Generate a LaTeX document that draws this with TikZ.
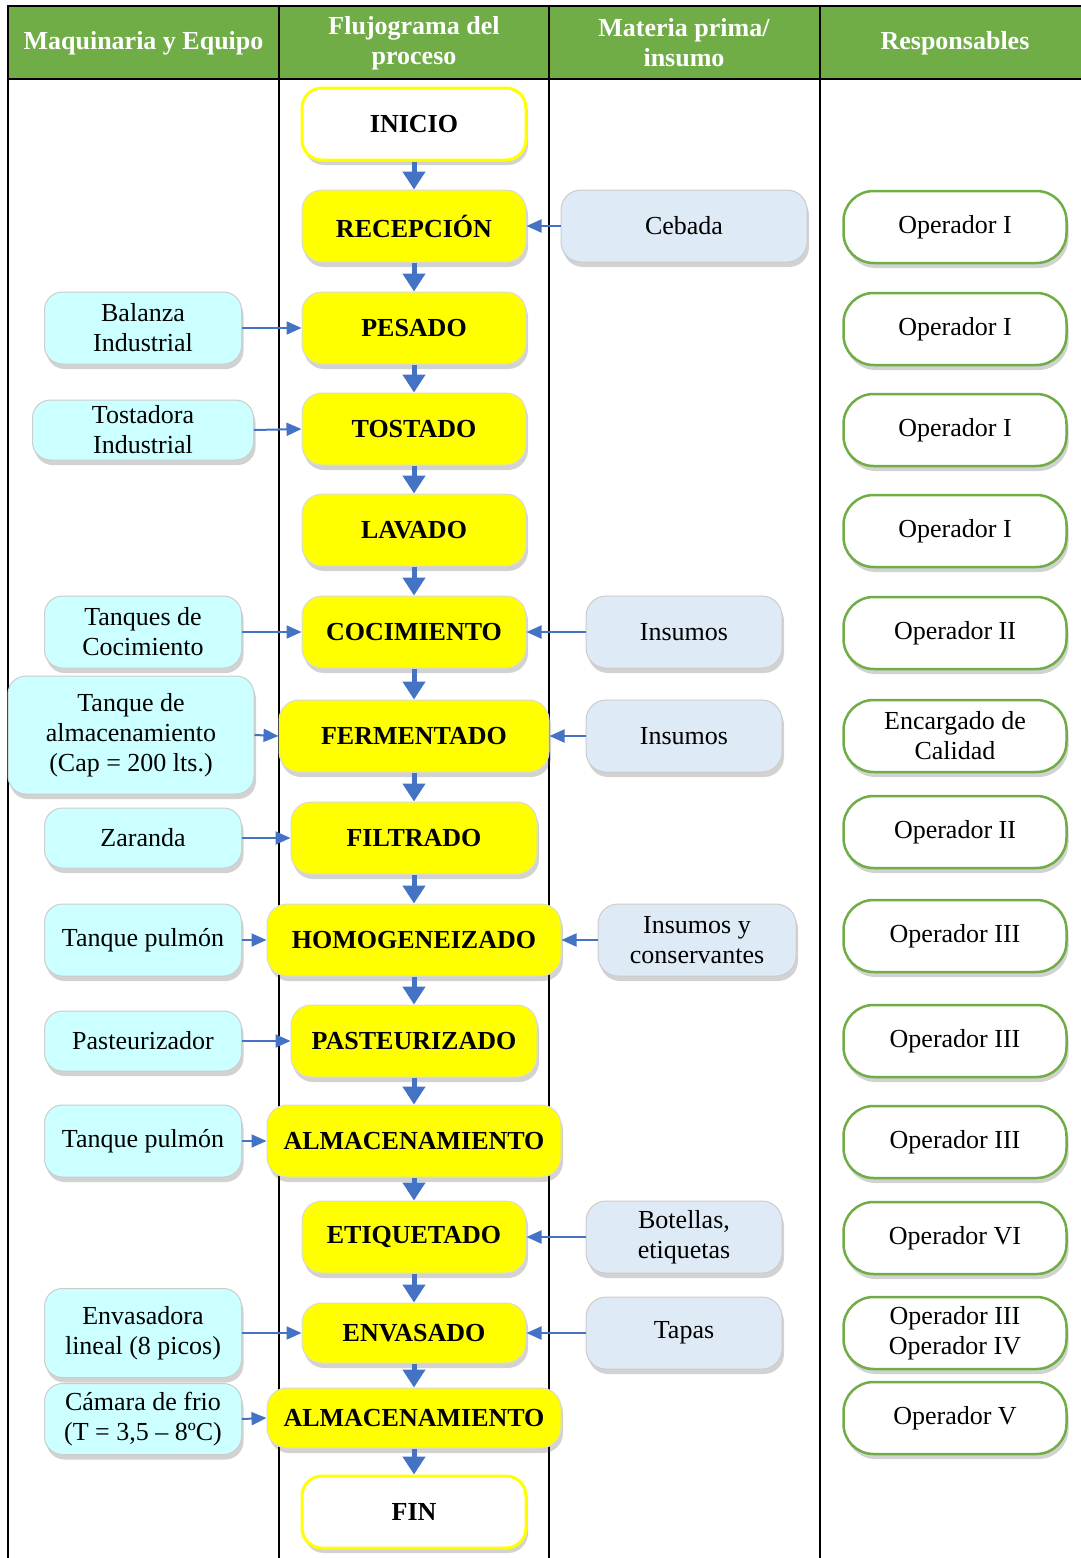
\documentclass[tikz,border=0pt]{standalone}
\usepackage{fontspec}
\setmainfont{Liberation Serif}
\usetikzlibrary{shadows,arrows.meta}
\definecolor{hdr}{HTML}{70AD47}
\definecolor{proc}{HTML}{FFFF00}
\definecolor{eqp}{HTML}{CCFFFF}
\definecolor{mat}{HTML}{DEEAF6}
\definecolor{arr}{HTML}{4472C4}
\definecolor{grn}{HTML}{70AD47}
\tikzset{
 base/.style={rounded corners=20pt, inner sep=0pt, align=center,
   font=\fontsize{26}{30}\selectfont,
   drop shadow={shadow xshift=2pt, shadow yshift=-5pt, opacity=0.25, fill=black!70}},
 procbox/.style={base, fill=proc, draw=black!15, line width=1pt,
   font=\fontsize{26}{30}\selectfont\bfseries, minimum height=72pt},
 termbox/.style={base, fill=white, draw=proc, line width=3pt,
   font=\fontsize{26}{30}\selectfont\bfseries, minimum height=72pt, minimum width=224pt},
 eqpbox/.style={base, fill=eqp, draw=black!20, line width=1pt, rounded corners=18pt},
 matbox/.style={base, fill=mat, draw=black!20, line width=1pt},
 respbox/.style={base, fill=white, draw=grn, line width=2.5pt, rounded corners=30pt,
   minimum width=223pt, minimum height=72pt},
 varrow/.style={draw=arr, line width=5pt, -{Triangle[length=18pt,width=22pt,fill=arr]}},
 harrow/.style={draw=arr, line width=2pt, -{Triangle[length=15pt,width=13pt,fill=arr]}},
 hdrtext/.style={text=white, font=\fontsize{26}{30}\selectfont\bfseries, align=center},
 tbl/.style={draw=black, line width=1.5pt},
}
\begin{document}
\begin{tikzpicture}[x=1pt,y=-1pt]
\useasboundingbox (0,0) rectangle (1081,1558);
% table
\fill[hdr] (8,6) rectangle (1081,79);
\draw[tbl] (8,1558) -- (8,6) -- (1081,6);
\draw[tbl] (8,79) -- (1081,79);
\draw[tbl] (279,6) -- (279,1558);
\draw[tbl] (549,6) -- (549,1558);
\draw[tbl] (820,6) -- (820,1558);
\node[hdrtext] (h1) at (143.5,43) {Maquinaria y Equipo};
\node[hdrtext] (h2) at (414,43) {Flujograma del\\proceso};
\node[hdrtext] (h3) at (684,43) {Materia prima/\\insumo};
\node[hdrtext] (h4) at (955,43) {Responsables};
% process
\node[termbox] (p1) at (414,124) {INICIO};
\node[procbox, minimum width=224pt] (p2) at (414,226) {RECEPCIÓN};
\node[procbox, minimum width=224pt] (p3) at (414,328) {PESADO};
\node[procbox, minimum width=224pt] (p4) at (414,429) {TOSTADO};
\node[procbox, minimum width=224pt] (p5) at (414,530) {LAVADO};
\node[procbox, minimum width=224pt] (p6) at (414,632) {COCIMIENTO};
\node[procbox, minimum width=270pt] (p7) at (414,736) {FERMENTADO};
\node[procbox, minimum width=246pt] (p8) at (414,838) {FILTRADO};
\node[procbox, minimum width=294pt] (p9) at (414,940) {HOMOGENEIZADO};
\node[procbox, minimum width=246pt] (p10) at (414,1041) {PASTEURIZADO};
\node[procbox, minimum width=294pt] (p11) at (414,1141) {ALMACENAMIENTO};
\node[procbox, minimum width=224pt] (p12) at (414,1237) {ETIQUETADO};
\node[procbox, minimum width=224pt, minimum height=60pt] (p13) at (414,1333) {ENVASADO};
\node[procbox, minimum width=294pt, minimum height=60pt] (p14) at (414,1418) {ALMACENAMIENTO};
\node[termbox] (p15) at (414,1512) {FIN};
% equipment
\node[eqpbox, minimum width=197pt, minimum height=72pt] (e1) at (143,328) {Balanza\\Industrial};
\node[eqpbox, minimum width=221pt, minimum height=60pt] (e2) at (143,430) {Tostadora\\Industrial};
\node[eqpbox, minimum width=197pt, minimum height=72pt] (e3) at (143,632) {Tanques de\\Cocimiento};
\node[eqpbox, minimum width=246pt, minimum height=118pt] (e4) at (131,735) {Tanque de\\almacenamiento\\(Cap = 200 lts.)};
\node[eqpbox, minimum width=197pt, minimum height=60pt] (e5) at (143,838) {Zaranda};
\node[eqpbox, minimum width=197pt, minimum height=72pt] (e6) at (143,940) {Tanque pulmón};
\node[eqpbox, minimum width=197pt, minimum height=60pt] (e7) at (143,1041) {Pasteurizador};
\node[eqpbox, minimum width=197pt, minimum height=72pt] (e8) at (143,1141) {Tanque pulmón};
\node[eqpbox, minimum width=197pt, minimum height=89pt] (e9) at (143,1333) {Envasadora\\lineal (8 picos)};
\node[eqpbox, minimum width=197pt, minimum height=71pt] (e10) at (143,1419) {Cámara de frio\\(T = 3,5 – 8ºC)};
% materials
\node[matbox, minimum width=246pt, minimum height=72pt] (m1) at (684,226) {Cebada};
\node[matbox, minimum width=196pt, minimum height=72pt] (m2) at (684,632) {Insumos};
\node[matbox, minimum width=196pt, minimum height=72pt] (m3) at (684,736) {Insumos};
\node[matbox, minimum width=198pt, minimum height=72pt] (m4) at (697,940) {Insumos y\\conservantes};
\node[matbox, minimum width=196pt, minimum height=72pt] (m5) at (684,1237) {Botellas,\\etiquetas};
\node[matbox, minimum width=196pt, minimum height=72pt] (m6) at (684,1333) {Tapas};
% responsibles
\node[respbox] (r1) at (955,227) {Operador I};
\node[respbox] (r2) at (955,329) {Operador I};
\node[respbox] (r3) at (955,430) {Operador I};
\node[respbox] (r4) at (955,531) {Operador I};
\node[respbox] (r5) at (955,633) {Operador II};
\node[respbox] (r6) at (955,736) {Encargado de\\Calidad};
\node[respbox] (r7) at (955,832) {Operador II};
\node[respbox] (r8) at (955,936) {Operador III};
\node[respbox] (r9) at (955,1041) {Operador III};
\node[respbox] (r10) at (955,1142) {Operador III};
\node[respbox] (r11) at (955,1238) {Operador VI};
\node[respbox] (r12) at (955,1333) {Operador III\\Operador IV};
\node[respbox] (r13) at (955,1418) {Operador V};
% flow arrows
\foreach \a/\b in {p1/p2,p2/p3,p3/p4,p4/p5,p5/p6,p6/p7,p7/p8,p8/p9,p9/p10,p10/p11,p11/p12,p12/p13,p13/p14,p14/p15}
  \draw[varrow] (\a.south) -- (\b.north);
\foreach \a/\b in {e1/p3,e2/p4,e3/p6,e4/p7,e5/p8,e6/p9,e7/p10,e8/p11,e9/p13,e10/p14}
  \draw[harrow] (\a.east) -- (\b.west);
\foreach \a/\b in {m1/p2,m2/p6,m3/p7,m4/p9,m5/p12,m6/p13}
  \draw[harrow] (\a.west) -- (\b.east);
\end{tikzpicture}
\end{document}
